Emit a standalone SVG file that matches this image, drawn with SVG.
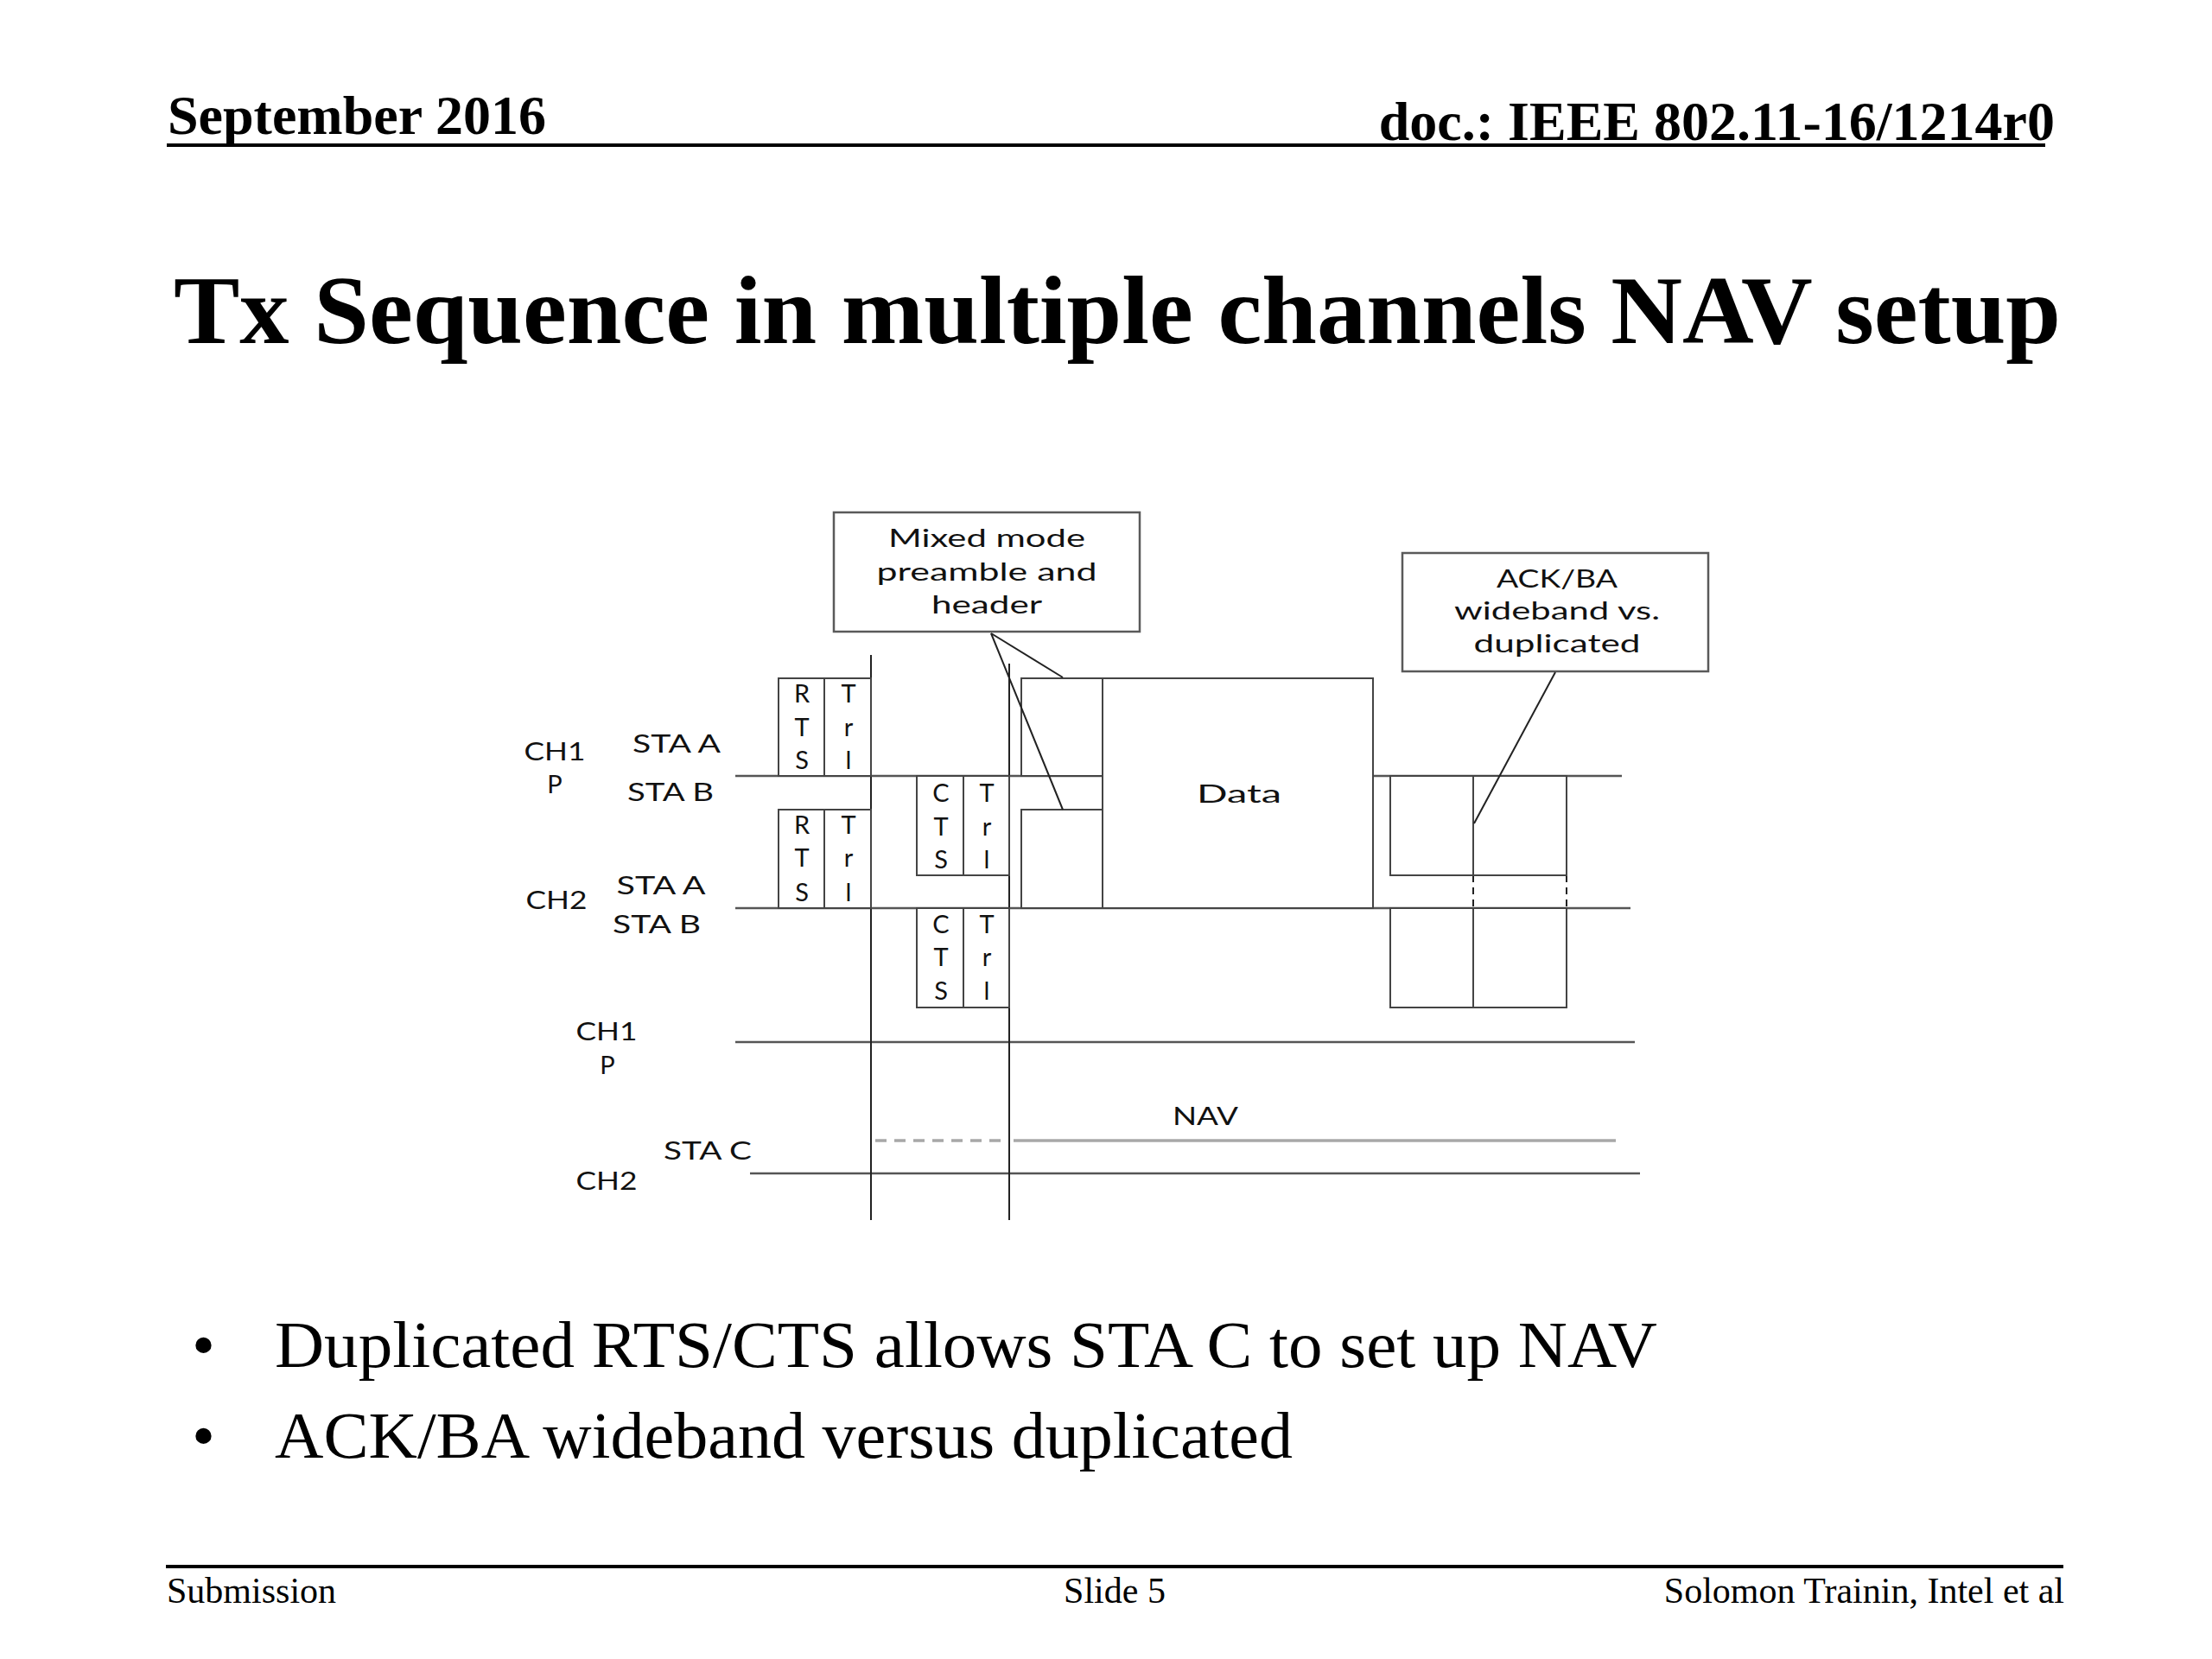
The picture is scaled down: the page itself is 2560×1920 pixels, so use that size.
<svg xmlns="http://www.w3.org/2000/svg" width="2560" height="1920" viewBox="0 0 2560 1920">
<style>
.hdr{font-family:"Liberation Serif","Times New Roman",serif;font-weight:bold;fill:#000}
.body{font-family:"Liberation Serif","Times New Roman",serif;fill:#000}
.d{font-family:Lato,"Open Sans","Liberation Sans",sans-serif;font-size:29px;fill:#111;text-anchor:middle}
.ln{stroke:#555;stroke-width:2.5;fill:none}
.vl{stroke:#222;stroke-width:2;fill:none}
.bx{stroke:#444;stroke-width:2;fill:#fff}
.cb{stroke:#5a5a5a;stroke-width:2.5;fill:#fff}
.nav{stroke:#a8a8a8;stroke-width:3.5;fill:none}
</style>
<rect width="2560" height="1920" fill="#fff"/>
<g id="header">
<text class="hdr" x="194" y="155" font-size="64">September 2016</text>
<text class="hdr" x="2378" y="162" font-size="64" text-anchor="end">doc.: IEEE 802.11-16/1214r0</text>
<line x1="193" y1="168" x2="2367" y2="168" stroke="#000" stroke-width="4"/>
</g>
<text id="title" class="hdr" x="201" y="397" font-size="112" textLength="2184" lengthAdjust="spacingAndGlyphs">Tx Sequence in multiple channels NAV setup</text>

<g id="connectors">
<line class="ln" x1="851" y1="898" x2="1877" y2="898"/>
<line class="ln" x1="851" y1="1051" x2="1887" y2="1051"/>
<line class="ln" x1="851" y1="1206" x2="1892" y2="1206"/>
<line class="ln" x1="868" y1="1358" x2="1898" y2="1358"/>
<line class="nav" x1="1013" y1="1320" x2="1163" y2="1320" stroke-dasharray="13,9"/>
<line class="nav" x1="1173" y1="1320" x2="1870" y2="1320"/>
<line class="vl" x1="1008" y1="758" x2="1008" y2="1412"/>
<line class="vl" x1="1168" y1="768" x2="1168" y2="1412"/>
<line class="vl" x1="1705" y1="1013" x2="1705" y2="1051" stroke-dasharray="8,6"/>
<line class="vl" x1="1813" y1="1013" x2="1813" y2="1051" stroke-dasharray="8,6"/>
</g>

<g id="rts-ch1">
<path class="bx" d="M901,898 V785 H1008 V898 Z M954,785 V898"/>
<text class="d" x="928" y="813">R</text><text class="d" x="928" y="852">T</text><text class="d" x="928" y="890">S</text>
<text class="d" x="982" y="813">T</text><text class="d" x="982" y="852">r</text><text class="d" x="982" y="890">l</text>
</g>
<g id="rts-ch2">
<path class="bx" d="M901,1051 V937 H1008 V1051 Z M954,937 V1051"/>
<text class="d" x="928" y="965">R</text><text class="d" x="928" y="1003">T</text><text class="d" x="928" y="1043">S</text>
<text class="d" x="982" y="965">T</text><text class="d" x="982" y="1003">r</text><text class="d" x="982" y="1043">l</text>
</g>
<g id="cts-ch1">
<path class="bx" d="M1061,898 V1013 H1168 V898 Z M1115,898 V1013"/>
<text class="d" x="1089" y="928">C</text><text class="d" x="1089" y="967">T</text><text class="d" x="1089" y="1005">S</text>
<text class="d" x="1142" y="928">T</text><text class="d" x="1142" y="967">r</text><text class="d" x="1142" y="1005">l</text>
</g>
<g id="cts-ch2">
<path class="bx" d="M1061,1051 V1166 H1168 V1051 Z M1115,1051 V1166"/>
<text class="d" x="1089" y="1080">C</text><text class="d" x="1089" y="1118">T</text><text class="d" x="1089" y="1157">S</text>
<text class="d" x="1142" y="1080">T</text><text class="d" x="1142" y="1118">r</text><text class="d" x="1142" y="1157">l</text>
</g>
<g id="preamble-ch1"><rect class="bx" x="1182" y="785" width="94" height="113"/></g>
<g id="preamble-ch2"><rect class="bx" x="1182" y="937" width="94" height="114"/></g>
<g id="data">
<rect class="bx" x="1276" y="785" width="313" height="266"/>
<text class="d" x="1434" y="929" font-size="33" textLength="98" lengthAdjust="spacingAndGlyphs">Data</text>
</g>
<g id="ack-ch1">
<rect class="bx" x="1609" y="898" width="96" height="115"/>
<rect class="bx" x="1705" y="898" width="108" height="115"/>
</g>
<g id="ack-ch2">
<rect class="bx" x="1609" y="1051" width="96" height="115"/>
<rect class="bx" x="1705" y="1051" width="108" height="115"/>
</g>

<g id="callout-mixed">
<rect class="cb" x="965" y="593" width="354" height="138"/>
<text class="d" x="1142" y="633" textLength="228" lengthAdjust="spacingAndGlyphs">Mixed mode</text>
<text class="d" x="1142" y="672" textLength="255" lengthAdjust="spacingAndGlyphs">preamble and</text>
<text class="d" x="1142" y="710" textLength="128" lengthAdjust="spacingAndGlyphs">header</text>
</g>
<g id="callout-ack">
<rect class="cb" x="1623" y="640" width="354" height="137"/>
<text class="d" x="1802" y="680" textLength="140" lengthAdjust="spacingAndGlyphs">ACK/BA</text>
<text class="d" x="1802" y="717" textLength="238" lengthAdjust="spacingAndGlyphs">wideband vs.</text>
<text class="d" x="1802" y="755" textLength="193" lengthAdjust="spacingAndGlyphs">duplicated</text>
</g>

<g id="leaders">
<line class="vl" x1="1147" y1="733" x2="1230" y2="784"/>
<line class="vl" x1="1147" y1="733" x2="1230" y2="937"/>
<line class="vl" x1="1800" y1="778" x2="1706" y2="953"/>
</g>

<g id="labels">
<text class="d" x="642" y="880" textLength="71" lengthAdjust="spacingAndGlyphs">CH1</text>
<text class="d" x="642" y="918">P</text>
<text class="d" x="783" y="871" textLength="102" lengthAdjust="spacingAndGlyphs">STA A</text>
<text class="d" x="776" y="927" textLength="100" lengthAdjust="spacingAndGlyphs">STA B</text>
<text class="d" x="765" y="1035" textLength="103" lengthAdjust="spacingAndGlyphs">STA A</text>
<text class="d" x="644" y="1052" textLength="71" lengthAdjust="spacingAndGlyphs">CH2</text>
<text class="d" x="760" y="1080" textLength="102" lengthAdjust="spacingAndGlyphs">STA B</text>
<text class="d" x="702" y="1204" textLength="71" lengthAdjust="spacingAndGlyphs">CH1</text>
<text class="d" x="703" y="1243">P</text>
<text class="d" x="819" y="1342" textLength="102" lengthAdjust="spacingAndGlyphs">STA C</text>
<text class="d" x="702" y="1377" textLength="71" lengthAdjust="spacingAndGlyphs">CH2</text>
<text class="d" x="1395" y="1302" textLength="76" lengthAdjust="spacingAndGlyphs">NAV</text>
</g>

<g id="bullets">
<text class="body" x="222" y="1582" font-size="77">•</text>
<text class="body" x="318" y="1582" font-size="77" textLength="1600" lengthAdjust="spacingAndGlyphs">Duplicated RTS/CTS allows STA C to set up NAV</text>
<text class="body" x="222" y="1687" font-size="77">•</text>
<text class="body" x="318" y="1687" font-size="77" textLength="1178" lengthAdjust="spacingAndGlyphs">ACK/BA wideband versus duplicated</text>
</g>

<g id="footer">
<line x1="192" y1="1813" x2="2388" y2="1813" stroke="#000" stroke-width="4"/>
<text class="body" x="193" y="1855" font-size="42">Submission</text>
<text class="body" x="1290" y="1855" font-size="42" text-anchor="middle">Slide 5</text>
<text class="body" x="2389" y="1855" font-size="42" text-anchor="end">Solomon Trainin, Intel et al</text>
</g>
</svg>
